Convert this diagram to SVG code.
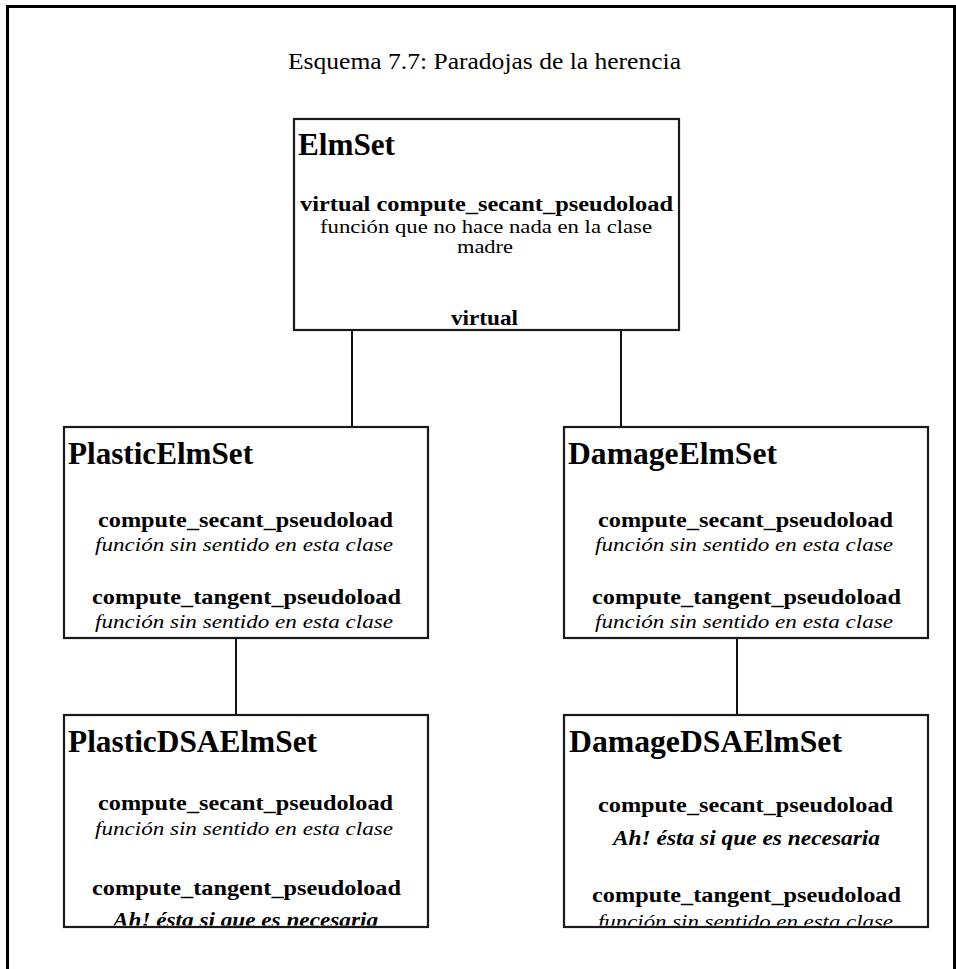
<svg xmlns="http://www.w3.org/2000/svg" width="956" height="969" viewBox="0 0 956 969">
  <style>
    text { font-family: "Liberation Serif", "Times New Roman", serif; fill: #000; }
    .caption { font-size: 24px; }
    .cls { font-size: 31px; font-weight: bold; }
    .op { font-size: 20px; font-weight: bold; }
    .note { font-size: 19.5px; font-style: italic; }
    .plain { font-size: 19.5px; }
    .key { font-size: 20.5px; font-weight: bold; font-style: italic; }
    .box { fill: #fff; stroke: #1a1a1a; stroke-width: 2.2; }
    .link { stroke: #111; stroke-width: 2; fill: none; }
    .frame { stroke: #000; stroke-width: 3; fill: none; }
  </style>
  <defs>
    <clipPath id="clipPlasticDSA"><rect x="64" y="715" width="364" height="210.5"/></clipPath>
    <clipPath id="clipDamageDSA"><rect x="564" y="715" width="364" height="210.5"/></clipPath>
  </defs>

  <rect x="0" y="0" width="956" height="969" fill="#fff"/>

  <!-- page frame -->
  <g id="frame">
    <path class="frame" d="M7.5 969 V6.5 H956"/>
    <path class="frame" d="M954.5 6.5 V969"/>
  </g>

  <text class="caption" x="288" y="69" textLength="393" lengthAdjust="spacingAndGlyphs">Esquema 7.7: Paradojas de la herencia</text>

  <!-- inheritance links -->
  <g id="connectors">
    <line class="link" x1="352" y1="330" x2="352" y2="427"/>
    <line class="link" x1="621" y1="330" x2="621" y2="427"/>
    <line class="link" x1="236" y1="638" x2="236" y2="715"/>
    <line class="link" x1="737" y1="638" x2="737" y2="715"/>
  </g>

  <g id="ElmSet">
    <rect class="box" x="294" y="119" width="385" height="211"/>
    <text class="cls" x="298" y="155" textLength="97" lengthAdjust="spacingAndGlyphs">ElmSet</text>
    <text class="op" x="300" y="211" textLength="373" lengthAdjust="spacingAndGlyphs">virtual compute_secant_pseudoload</text>
    <text class="plain" x="320" y="233" textLength="332" lengthAdjust="spacingAndGlyphs">función que no hace nada en la clase</text>
    <text class="plain" x="457" y="253" textLength="56" lengthAdjust="spacingAndGlyphs">madre</text>
    <text class="op" x="451" y="325" textLength="67" lengthAdjust="spacingAndGlyphs">virtual</text>
  </g>

  <g id="PlasticElmSet">
    <rect class="box" x="64" y="427" width="364" height="211"/>
    <text class="cls" x="68" y="464" textLength="185" lengthAdjust="spacingAndGlyphs">PlasticElmSet</text>
    <text class="op" x="98" y="527" textLength="295" lengthAdjust="spacingAndGlyphs">compute_secant_pseudoload</text>
    <text class="note" x="95" y="551" textLength="298" lengthAdjust="spacingAndGlyphs">función sin sentido en esta clase</text>
    <text class="op" x="92" y="604" textLength="309" lengthAdjust="spacingAndGlyphs">compute_tangent_pseudoload</text>
    <text class="note" x="95" y="628" textLength="298" lengthAdjust="spacingAndGlyphs">función sin sentido en esta clase</text>
  </g>

  <g id="DamageElmSet">
    <rect class="box" x="564" y="427" width="364" height="211"/>
    <text class="cls" x="568" y="464" textLength="209" lengthAdjust="spacingAndGlyphs">DamageElmSet</text>
    <text class="op" x="598" y="527" textLength="295" lengthAdjust="spacingAndGlyphs">compute_secant_pseudoload</text>
    <text class="note" x="595" y="551" textLength="298" lengthAdjust="spacingAndGlyphs">función sin sentido en esta clase</text>
    <text class="op" x="592" y="604" textLength="309" lengthAdjust="spacingAndGlyphs">compute_tangent_pseudoload</text>
    <text class="note" x="595" y="628" textLength="298" lengthAdjust="spacingAndGlyphs">función sin sentido en esta clase</text>
  </g>

  <g id="PlasticDSAElmSet">
    <rect class="box" x="64" y="715" width="364" height="212"/>
    <g clip-path="url(#clipPlasticDSA)">
      <text class="cls" x="68" y="752" textLength="249" lengthAdjust="spacingAndGlyphs">PlasticDSAElmSet</text>
      <text class="op" x="98" y="810" textLength="295" lengthAdjust="spacingAndGlyphs">compute_secant_pseudoload</text>
      <text class="note" x="95" y="835" textLength="298" lengthAdjust="spacingAndGlyphs">función sin sentido en esta clase</text>
      <text class="op" x="92" y="895" textLength="309" lengthAdjust="spacingAndGlyphs">compute_tangent_pseudoload</text>
      <text class="key" x="113" y="927" textLength="265" lengthAdjust="spacingAndGlyphs">Ah! ésta si que es necesaria</text>
    </g>
  </g>

  <g id="DamageDSAElmSet">
    <rect class="box" x="564" y="715" width="364" height="212"/>
    <g clip-path="url(#clipDamageDSA)">
      <text class="cls" x="569" y="752" textLength="273" lengthAdjust="spacingAndGlyphs">DamageDSAElmSet</text>
      <text class="op" x="598" y="812" textLength="295" lengthAdjust="spacingAndGlyphs">compute_secant_pseudoload</text>
      <text class="key" x="613" y="845" textLength="267" lengthAdjust="spacingAndGlyphs">Ah! ésta si que es necesaria</text>
      <text class="op" x="592" y="902" textLength="309" lengthAdjust="spacingAndGlyphs">compute_tangent_pseudoload</text>
      <text class="note" x="598" y="928" textLength="295" lengthAdjust="spacingAndGlyphs">función sin sentido en esta clase</text>
    </g>
  </g>
</svg>
